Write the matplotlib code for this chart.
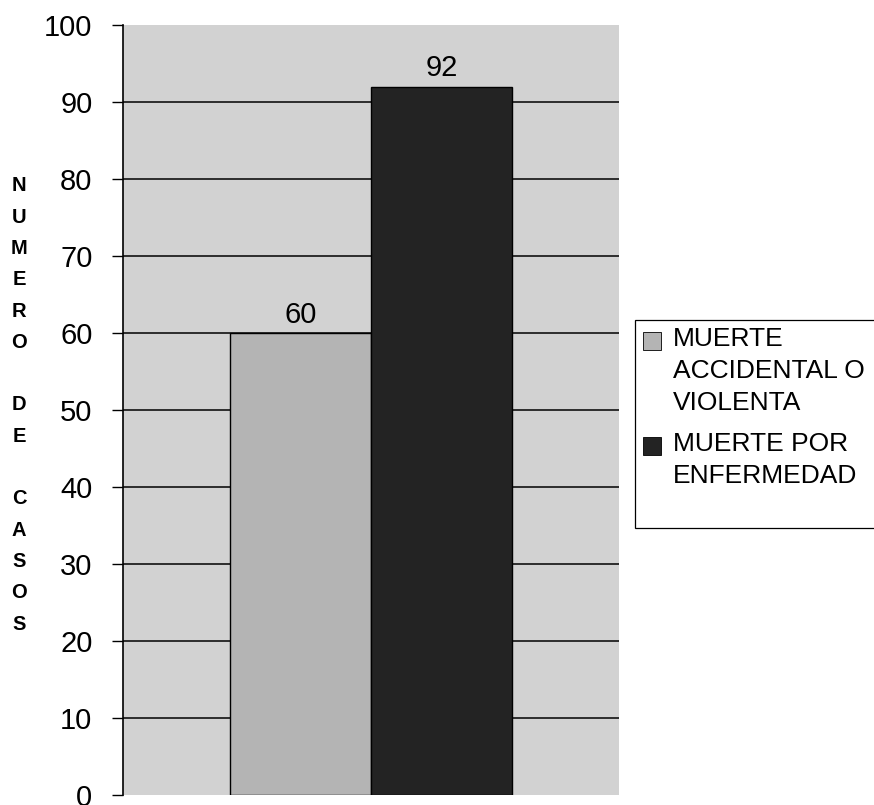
import matplotlib
matplotlib.use("Agg")
import matplotlib.pyplot as plt
from matplotlib.patches import Rectangle

# Data
categories = ["MUERTE\nACCIDENTAL O\nVIOLENTA", "MUERTE POR\nENFERMEDAD"]
values = [60, 92]
y_ticks = [0, 10, 20, 30, 40, 50, 60, 70, 80, 90, 100]
y_label = "NUMERO DE CASOS"

# Styling
bar_colors = ["#b4b4b4", "#232323"]
bg_color = "#d2d2d2"
font = "Liberation Sans"

W, H = 874, 805
fig = plt.figure(figsize=(W / 100, H / 100), dpi=100)


def fx(px):
    return px / W


def fy(py):
    return 1 - py / H


ax = fig.add_axes([fx(123), fy(795), fx(619) - fx(123), fy(25) - fy(795)])
ax.set_facecolor(bg_color)

width = 0.284
offsets = [-width / 2, width / 2]
bars = []
for off, val, col in zip(offsets, values, bar_colors):
    b = ax.bar(off, val, width=width, color=col, edgecolor="black",
               linewidth=1.0, zorder=3)
    bars.append(b[0])
    ax.annotate(f"{val}", xy=(off, val), xytext=(0, 7.5),
                textcoords="offset points", ha="center", va="baseline",
                fontsize=21, family=font, color="black", zorder=4)

ax.set_xlim(-0.5, 0.5)
ax.set_ylim(0, 100)
ax.set_yticks(y_ticks)
ax.set_yticklabels([str(t) for t in y_ticks], fontsize=21, family=font)
ax.set_xticks([])
ax.tick_params(axis="y", length=8, width=1.0, pad=14, color="black")

# horizontal grid lines between the limits
for t in y_ticks[1:-1]:
    ax.axhline(t, color="black", linewidth=1.1, zorder=1)

for side in ["top", "right", "bottom"]:
    ax.spines[side].set_visible(False)
ax.spines["left"].set_linewidth(1.2)
ax.spines["left"].set_color("black")

# stacked vertical axis title
stacked = "\n".join(ch if ch != " " else "" for ch in y_label)
fig.text(fx(19), fy(405), stacked, ha="center", va="center", fontsize=14.5,
         fontweight="bold", family=font, linespacing=1.82)

# legend box
frame = Rectangle((fx(635), fy(528)), fx(900) - fx(635), fy(320) - fy(528),
                  transform=fig.transFigure, facecolor="white",
                  edgecolor="black", linewidth=0.9, clip_on=False)
fig.patches.append(frame)

entry_tops = [327, 432]
for top, label, col in zip(entry_tops, categories, bar_colors):
    sw = Rectangle((fx(643), fy(top + 23)), fx(661) - fx(643),
                   fy(top + 5) - fy(top + 23), transform=fig.transFigure,
                   facecolor=col, edgecolor="black", linewidth=0.6)
    fig.patches.append(sw)
    fig.text(fx(673), fy(top), label, ha="left", va="top", fontsize=19,
             family=font, linespacing=1.42)

fig.savefig("out.png", dpi=100)
